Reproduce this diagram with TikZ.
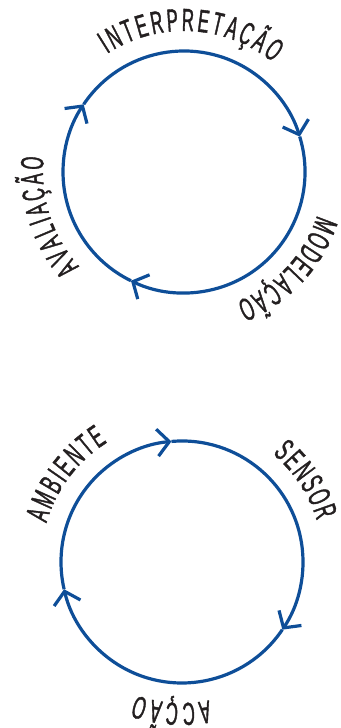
\documentclass[tikz,border=0pt]{standalone}
\usepackage{fontspec}
\newfontfamily\cyclefont[FakeStretch=0.52, FakeBold=1.2]{Liberation Sans}
\usetikzlibrary{arrows.meta, decorations.text}
\definecolor{cycleblue}{RGB}{14,78,152}
\definecolor{labelgrey}{RGB}{35,31,32}

\begin{document}
\begin{tikzpicture}[
    loop arc/.style={line width=3.2pt, cycleblue, -{Straight Barb[length=12pt, width=27pt]}},
    label arc/.style={decorate, decoration={text along path,
        text={|\cyclefont\fontsize{32pt}{32pt}\selectfont|#1},
        text color=labelgrey, text align=fit to path}}
  ]
  \useasboundingbox (0,0) rectangle (340pt,728pt);

  % Upper cycle
  \begin{scope}[shift={(184pt,556pt)}]
    \draw[loop arc] (146:121pt) arc[start angle=146, end angle=17,   radius=121pt];
    \draw[loop arc] (17:121pt)  arc[start angle=17,  end angle=-116, radius=121pt];
    \draw[loop arc] (-116:121pt) arc[start angle=-116, end angle=-214, radius=121pt];

    % Labels
    \path[label arc=INTERPRETAÇÃO] (123:141pt) arc[start angle=123, end angle=51, radius=141pt];
    \path[label arc=MODELAÇÃO] (-18:140pt) arc[start angle=-18, end angle=-68, radius=140pt];
    \path[label arc=AVALIAÇÃO] (222:141pt) arc[start angle=222, end angle=174, radius=141pt];
  \end{scope}

  % Lower cycle
  \begin{scope}[shift={(182pt,166pt)}]
    \draw[loop arc] (95:121pt)  arc[start angle=95,  end angle=-34,  radius=121pt];
    \draw[loop arc] (-34:121pt) arc[start angle=-34, end angle=-167, radius=121pt];
    \draw[loop arc] (-167:121pt) arc[start angle=-167, end angle=-265, radius=121pt];

    % Labels
    \path[label arc=AMBIENTE] (164:141pt) arc[start angle=164, end angle=122, radius=141pt];
    \path[label arc=SENSOR] (50:141pt) arc[start angle=50, end angle=17, radius=141pt];
    \path[label arc=ACÇÃO] (-79:141pt) arc[start angle=-79, end angle=-109, radius=141pt];
  \end{scope}
\end{tikzpicture}
\end{document}
